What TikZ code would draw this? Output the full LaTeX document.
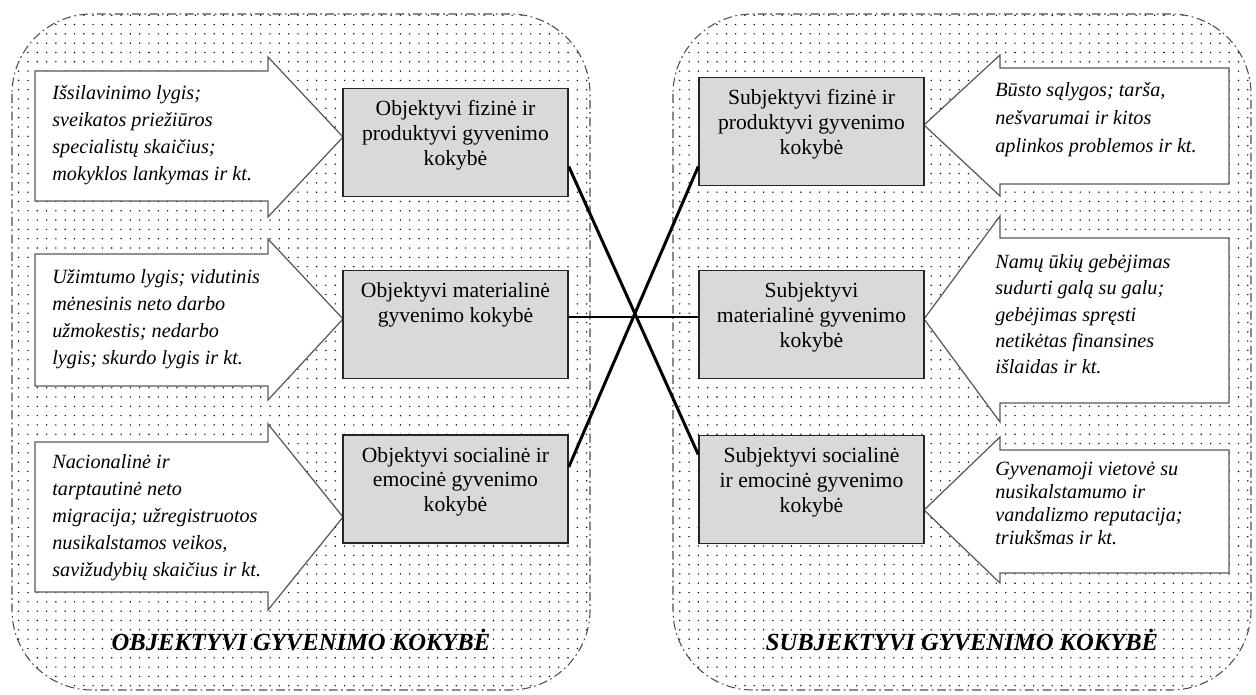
\documentclass[tikz,border=0pt]{standalone}
\usepackage{fontspec}
\setmainfont{Liberation Serif}
\usetikzlibrary{calc,patterns.meta}

\tikzset{
  area/.style={draw=black!70, dash pattern=on 5pt off 2pt on 1pt off 2pt, line width=0.6pt,
    rounded corners=1.6cm, pattern={Dots[distance=5.3pt,radius=0.45pt]}, pattern color=black},
  qualbox/.style={draw=black!85, line width=0.9pt, fill=black!15, minimum width=4.5cm,
    minimum height=2.16cm, inner sep=0pt, font=\fontsize{12.3}{14.2}\selectfont},
  arrowshape/.style={draw=black!65, line width=0.7pt, fill=white},
  factor/.style={anchor=north west, align=left, inner sep=0pt,
    font=\fontsize{11.5}{15.4}\selectfont\itshape},
  title/.style={font=\fontsize{14}{16}\selectfont\bfseries\itshape},
  link/.style={line width=1.7pt}
}
\newcommand{\boxtext}[1]{\parbox[c][1.68cm][t]{4.3cm}{\centering #1}}

\begin{document}
\begin{tikzpicture}[x=0.02cm, y=-0.02cm]
    \useasboundingbox (0,0) rectangle (1256,695);

    % Draw the two areas
    \draw[area] (12,14) rectangle (590,690);
    \draw[area] (673,14) rectangle (1251,690);

    % Draw arrows on the left
    \draw[arrowshape] (35,71) -- (268,71) -- (268,57) -- (343,137) -- (268,217) -- (268,201) -- (35,201) -- cycle;
    \draw[arrowshape] (35,254) -- (268,254) -- (268,239) -- (343,319) -- (268,400) -- (268,386) -- (35,386) -- cycle;
    \draw[arrowshape] (35,442) -- (268,442) -- (268,424) -- (343,517) -- (268,610) -- (268,592) -- (35,592) -- cycle;

    % Draw arrows on the right
    \draw[arrowshape] (1229,68) -- (1000,68) -- (1000,55) -- (924,125) -- (1000,196) -- (1000,184) -- (1229,184) -- cycle;
    \draw[arrowshape] (1229,238) -- (1000,238) -- (1000,216) -- (924,319) -- (1000,422) -- (1000,403) -- (1229,403) -- cycle;
    \draw[arrowshape] (1229,450) -- (1000,450) -- (1000,437) -- (924,510) -- (1000,583) -- (1000,573) -- (1229,573) -- cycle;

    % Quality boxes
    \node[qualbox] (lo1) at (455.5,142.5) {\boxtext{Objektyvi fizinė ir\\ produktyvi gyvenimo\\ kokybė}};
    \node[qualbox] (lo2) at (455.5,324.5) {\boxtext{Objektyvi materialinė\\ gyvenimo kokybė}};
    \node[qualbox] (lo3) at (455.5,489) {\boxtext{Objektyvi socialinė ir\\ emocinė gyvenimo\\ kokybė}};
    \node[qualbox] (ro1) at (811.5,131.5) {\boxtext{Subjektyvi fizinė ir\\ produktyvi gyvenimo\\ kokybė}};
    \node[qualbox] (ro2) at (811.5,324.5) {\boxtext{Subjektyvi\\ materialinė gyvenimo\\ kokybė}};
    \node[qualbox] (ro3) at (811.5,489.5) {\boxtext{Subjektyvi socialinė\\ ir emocinė gyvenimo\\ kokybė}};

    % Links between both sides
    \draw[link] ($(lo1.east)+(0,24)$) -- ($(ro3.west)+(0,-35)$);
    \draw[link] ($(lo2.east)+(0,-7.5)$) -- ($(ro2.west)+(0,-7.5)$);
    \draw[link] ($(lo3.east)+(0,-22)$) -- ($(ro1.west)+(0,35)$);

    % Texts in the arrows
    \node[factor] (lf1) at (52,85) {Išsilavinimo lygis;\\ sveikatos priežiūros\\ specialistų skaičius;\\ mokyklos lankymas ir kt.};
    \node[factor] (lf2) at (52,269) {Užimtumo lygis; vidutinis\\ mėnesinis neto darbo\\ užmokestis; nedarbo\\ lygis; skurdo lygis ir kt.};
    \node[factor] (lf3) at (52,454) {Nacionalinė ir\\ tarptautinė neto\\ migracija; užregistruotos\\ nusikalstamos veikos,\\ savižudybių skaičius ir kt.};
    \node[factor, font=\fontsize{11.5}{15.9}\selectfont\itshape] (rf1) at (995,82) {Būsto sąlygos; tarša,\\ nešvarumai ir kitos\\ aplinkos problemos ir kt.};
    \node[factor, font=\fontsize{11.5}{15}\selectfont\itshape] (rf2) at (995,254) {Namų ūkių gebėjimas\\ sudurti galą su galu;\\ gebėjimas spręsti\\ netikėtas finansines\\ išlaidas ir kt.};
    \node[factor, font=\fontsize{11.5}{13.1}\selectfont\itshape] (rf3) at (995,462) {Gyvenamoji vietovė su\\ nusikalstamumo ir\\ vandalizmo reputacija;\\ triukšmas ir kt.};

    % Titles
    \node[title] (lt) at (301,640) {OBJEKTYVI GYVENIMO KOKYBĖ};
    \node[title] (rt) at (962,640) {SUBJEKTYVI GYVENIMO KOKYBĖ};
\end{tikzpicture}
\end{document}
